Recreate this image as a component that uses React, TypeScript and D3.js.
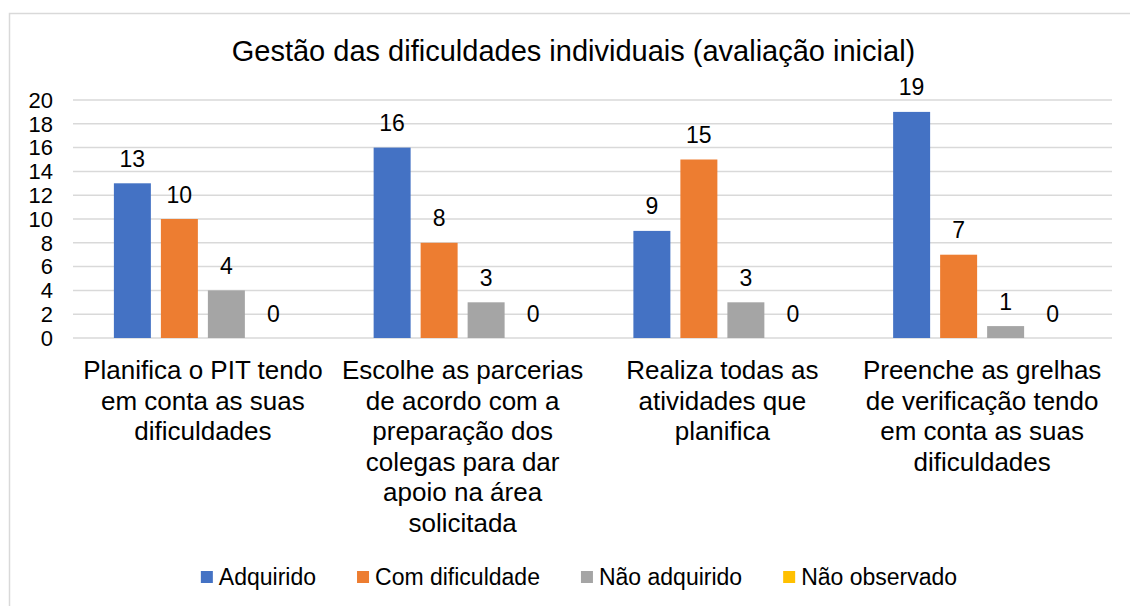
import React from 'react';
import * as d3 from 'd3';

const title = 'Gestão das dificuldades individuais (avaliação inicial)';
const categories = ['Planifica', 'Escolhe', 'Realiza', 'Preenche'];
const categoryLines = [
  ['Planifica o PIT tendo', 'em conta as suas', 'dificuldades'],
  ['Escolhe as parcerias', 'de acordo com a', 'preparação dos', 'colegas para dar', 'apoio na área', 'solicitada'],
  ['Realiza todas as', 'atividades que', 'planifica'],
  ['Preenche as grelhas', 'de verificação tendo', 'em conta as suas', 'dificuldades'],
];
const seriesNames = ['Adquirido', 'Com dificuldade', 'Não adquirido', 'Não observado'];
const seriesColors = ['#4472c4', '#ed7d31', '#a5a5a5', '#ffc000'];
const adquirido = [13, 16, 9, 19];
const comDificuldade = [10, 8, 15, 7];
const naoAdquirido = [4, 3, 3, 1];
const naoObservado = [0, 0, 0, 0];
const yTicks = [0, 2, 4, 6, 8, 10, 12, 14, 16, 18, 20];

const seriesValues = [adquirido, comDificuldade, naoAdquirido, naoObservado];

const W = 1130;
const H = 606;
const FONT = '"Liberation Sans", Arial, sans-serif';
const plot = { left: 73, right: 1112, top: 100, bottom: 338 };

let ctx: CanvasRenderingContext2D | null = null;
const measure = (s: string, size: number) => {
  if (!ctx) ctx = document.createElement('canvas').getContext('2d');
  if (!ctx) return s.length * size * 0.5;
  ctx.font = `${size}px "Liberation Sans", Arial, sans-serif`;
  return ctx.measureText(s).width;
};

export default function App() {
  const x0 = d3.scaleBand<string>().domain(categories).range([plot.left, plot.right]).padding(0);
  const x1 = d3
    .scaleBand<string>()
    .domain(seriesNames)
    .range([0, x0.bandwidth()])
    .paddingInner(0.213)
    .paddingOuter(0.87);
  const y = d3.scaleLinear().domain([0, 20]).range([plot.bottom, plot.top]);

  // legend layout, centred under the chart
  const legendSize = 23;
  const sq = 12;
  const itemGap = 41;
  const widths = seriesNames.map((n) => sq + 6 + measure(n, legendSize));
  const total = d3.sum(widths) + itemGap * (seriesNames.length - 1);
  let lx = 579 - total / 2;
  const legendItems = seriesNames.map((n, i) => {
    const item = { name: n, color: seriesColors[i], x: lx };
    lx += widths[i] + itemGap;
    return item;
  });

  return (
    <svg
      width={W}
      height={H}
      style={{ position: 'absolute', left: 0, top: 0, background: '#fff' }}
      fontFamily={FONT}
    >
      <rect x={0} y={0} width={W} height={H} fill="#fff" />
      <rect x={9.5} y={13.5} width={W} height={H} fill="none" stroke="#d9d9d9" strokeWidth={1.5} />

      <text x={573.5} y={61} textAnchor="middle" fontSize={29} fill="#000">
        {title}
      </text>

      {yTicks.map((t) => (
        <g key={t}>
          <line x1={plot.left} x2={plot.right} y1={y(t)} y2={y(t)} stroke="#d9d9d9" strokeWidth={1.5} />
          <text x={53} y={y(t)} dy="0.35em" textAnchor="end" fontSize={22} fill="#000">
            {t}
          </text>
        </g>
      ))}

      {categories.map((c, ci) => (
        <g key={c} transform={`translate(${x0(c)},0)`}>
          {seriesNames.map((s, si) => {
            const v = seriesValues[si][ci];
            const bx = x1(s) as number;
            return (
              <g key={s}>
                {v > 0 && (
                  <rect x={bx} y={y(v)} width={x1.bandwidth()} height={y(0) - y(v)} fill={seriesColors[si]} />
                )}
                <text
                  x={bx + x1.bandwidth() / 2}
                  y={y(v) - 16.5}
                  textAnchor="middle"
                  fontSize={23}
                  fill="#000"
                >
                  {v}
                </text>
              </g>
            );
          })}
          {categoryLines[ci].map((line, li) => (
            <text
              key={li}
              x={x0.bandwidth() / 2}
              y={379 + li * 30.6}
              textAnchor="middle"
              fontSize={26}
              fill="#000"
            >
              {line}
            </text>
          ))}
        </g>
      ))}

      {legendItems.map((it) => (
        <g key={it.name}>
          <rect x={it.x} y={571} width={sq} height={sq} fill={it.color} />
          <text x={it.x + sq + 6} y={577} dy="0.35em" fontSize={legendSize} fill="#000">
            {it.name}
          </text>
        </g>
      ))}
    </svg>
  );
}
